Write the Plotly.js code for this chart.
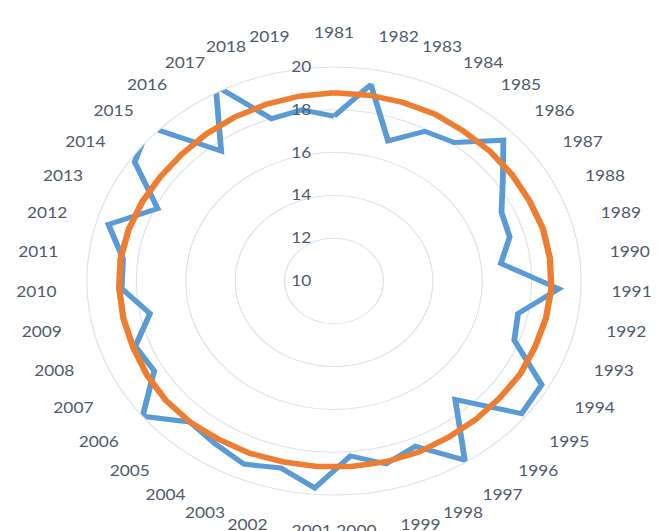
<!DOCTYPE html>
<html>
<head>
<meta charset="utf-8">
<script src="https://cdn.plot.ly/plotly-3.0.1.min.js"></script>
<style>
  html, body { margin: 0; padding: 0; background: #ffffff; overflow: hidden; }
  #wrap { width: 664px; height: 531px; overflow: hidden; }
  #chart { width: 575px; height: 531px; transform: scaleX(1.155); transform-origin: 0 0; }
</style>
</head>
<body>
<div id="wrap"><div id="chart"></div></div>
<script>
const years = ['1981','1982','1983','1984','1985','1986','1987','1988','1989','1990',
  '1991','1992','1993','1994','1995','1996','1997','1998','1999','2000',
  '2001','2002','2003','2004','2005','2006','2007','2008','2009','2010',
  '2011','2012','2013','2014','2015','2016','2017','2018','2019'];

const seriesA = [17.7, 19.3, 16.9, 17.9, 18.1, 19.5, 18.3, 17.5, 17.4, 16.8,
  19.1, 17.6, 17.8, 19.7, 19.8, 17.4, 19.9, 18.4, 18.8, 18.2,
  19.7, 19.0, 19.3, 19.0, 18.8, 20.0, 18.4, 18.6, 17.6, 18.6,
  18.6, 19.5, 17.9, 19.8, 20.4, 17.6, 20.3, 18.0, 18.1];

const seriesB = [18.8, 18.8, 18.8, 18.8, 18.75, 18.75, 18.75, 18.75, 18.8, 18.8,
  18.8, 18.75, 18.7, 18.7, 18.65, 18.65, 18.65, 18.7, 18.7, 18.7,
  18.7, 18.7, 18.75, 18.75, 18.8, 18.8, 18.75, 18.7, 18.7, 18.7,
  18.7, 18.65, 18.6, 18.55, 18.55, 18.6, 18.65, 18.7, 18.75];

const radialTicks = [10, 12, 14, 16, 18, 20];

const closeLoop = arr => arr.concat([arr[0]]);

const traces = [
  {
    type: 'scatterpolar', mode: 'lines',
    theta: closeLoop(years), r: closeLoop(seriesA),
    line: { color: '#5B9BD5', width: 5 },
    cliponaxis: false, hoverinfo: 'skip'
  },
  {
    type: 'scatterpolar', mode: 'lines',
    theta: closeLoop(years), r: closeLoop(seriesB),
    line: { color: '#ED7D31', width: 5.5 },
    cliponaxis: false, hoverinfo: 'skip'
  }
];

const layout = {
  width: 575, height: 531,
  margin: { l: 0, r: 0, t: 0, b: 0 },
  paper_bgcolor: '#ffffff',
  showlegend: false,
  font: { family: 'Lato, "Open Sans", sans-serif', size: 15, color: '#4F5B6E' },
  polar: {
    domain: { x: [0.1308, 0.8751], y: [0.0678, 0.8738] },
    bgcolor: 'rgba(0,0,0,0)',
    radialaxis: {
      range: [10, 20],
      tickvals: radialTicks,
      ticktext: radialTicks.map(String),
      angle: 90,
      side: 'counterclockwise',
      tickangle: 90,
      showline: false,
      ticks: 'outside',
      ticklen: 14,
      tickcolor: 'rgba(0,0,0,0)',
      showgrid: true,
      gridcolor: '#DDE2EA',
      gridwidth: 1,
      tickfont: { size: 15, color: '#4F5B6E' }
    },
    angularaxis: {
      type: 'category',
      categoryarray: years,
      direction: 'clockwise',
      rotation: 90,
      showgrid: false,
      showline: true,
      linecolor: '#DDE2EA',
      linewidth: 1,
      ticks: 'outside',
      ticklen: 23,
      tickcolor: 'rgba(0,0,0,0)',
      tickfont: { size: 15, color: '#4F5B6E' }
    }
  }
};

Plotly.newPlot('chart', traces, layout, { displayModeBar: false, staticPlot: true });
</script>
</body>
</html>
